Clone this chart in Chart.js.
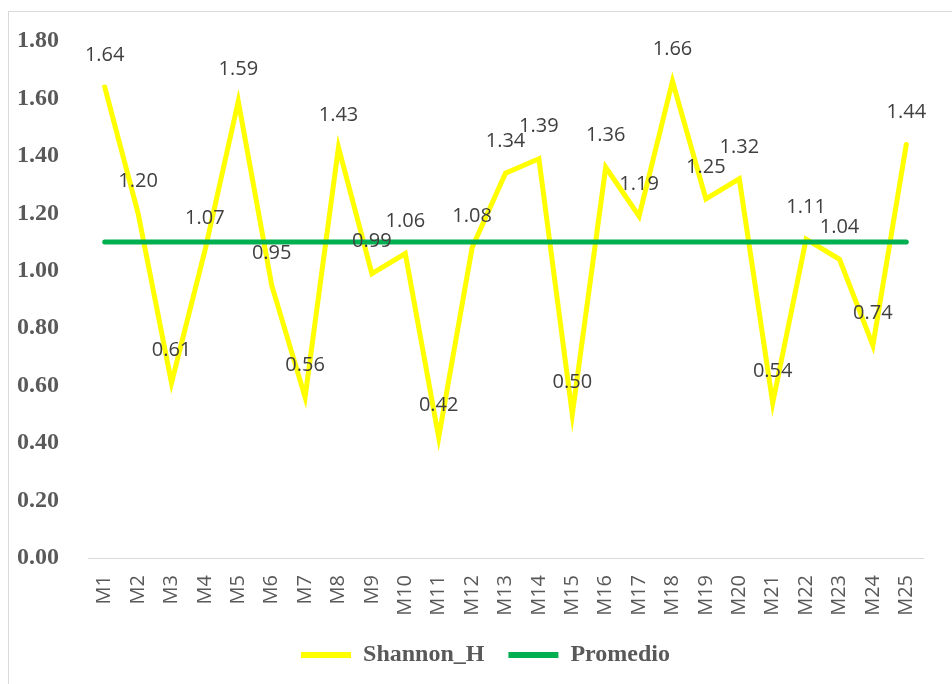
<!DOCTYPE html>
<html>
<head>
<meta charset="utf-8">
<script src="https://cdn.jsdelivr.net/npm/chart.js@4.4.1/dist/chart.umd.min.js"></script>
<style>
  html, body { margin: 0; padding: 0; background: #fff; overflow: hidden; }
  #frame { position: absolute; left: 8px; top: 11px; width: 953px; height: 690px; border: 1px solid #d9d9d9; }
</style>
</head>
<body>
<div id="frame"><canvas id="chart"></canvas></div>
<script>
// data
const samples = ['M1','M2','M3','M4','M5','M6','M7','M8','M9','M10','M11','M12','M13',
                 'M14','M15','M16','M17','M18','M19','M20','M21','M22','M23','M24','M25'];
const shannonH = [1.64, 1.20, 0.61, 1.07, 1.59, 0.95, 0.56, 1.43, 0.99, 1.06, 0.42, 1.08, 1.34,
                  1.39, 0.50, 1.36, 1.19, 1.66, 1.25, 1.32, 0.54, 1.11, 1.04, 0.74, 1.44];
const promedio = [1.10, 1.10, 1.10, 1.10, 1.10, 1.10, 1.10, 1.10, 1.10, 1.10, 1.10, 1.10, 1.10,
                  1.10, 1.10, 1.10, 1.10, 1.10, 1.10, 1.10, 1.10, 1.10, 1.10, 1.10, 1.10];
const yTicks = [0, 0.2, 0.4, 0.6, 0.8, 1.0, 1.2, 1.4, 1.6, 1.8];

const axisGray = '#595959';

// value labels above each Shannon_H point
const pointLabels = {
    id: 'pointLabels',
    afterDatasetsDraw(chart) {
        const ctx = chart.ctx;
        const meta = chart.getDatasetMeta(0);
        ctx.save();
        ctx.font = '20px "Open Sans"';
        ctx.fillStyle = '#404040';
        ctx.textAlign = 'center';
        ctx.textBaseline = 'middle';
        meta.data.forEach((pt, i) => {
            ctx.fillText(shannonH[i].toFixed(2), pt.x, pt.y - 32);
        });
        ctx.restore();
    }
};

new Chart(document.getElementById('chart'), {
    type: 'line',
    data: {
        labels: samples,
        datasets: [
            {
                label: 'Shannon_H',
                data: shannonH,
                borderColor: '#FFFF00',
                backgroundColor: '#FFFF00',
                borderWidth: 5,
                pointRadius: 0,
                tension: 0,
                borderCapStyle: 'round',
                borderJoinStyle: 'miter',
                order: 1
            },
            {
                label: 'Promedio',
                data: promedio,
                borderColor: '#00B050',
                backgroundColor: '#00B050',
                borderWidth: 5,
                pointRadius: 0,
                borderCapStyle: 'round',
                order: 0
            }
        ]
    },
    options: {
        responsive: true,
        maintainAspectRatio: false,
        animation: false,
        layout: { padding: { top: 29, right: 0, bottom: 25, left: 0 } },
        plugins: {
            tooltip: { enabled: false },
            legend: {
                position: 'bottom',
                labels: {
                    boxWidth: 50,
                    boxHeight: 6,
                    padding: 24,
                    color: axisGray,
                    font: { family: '"Liberation Serif"', size: 24, weight: 'bold' },
                    generateLabels(chart) {
                        return chart.data.datasets.map((ds, i) => ({
                            text: ds.label,
                            fillStyle: ds.borderColor,
                            strokeStyle: ds.borderColor,
                            lineWidth: 0,
                            fontColor: axisGray,
                            datasetIndex: i
                        }));
                    }
                }
            }
        },
        scales: {
            x: {
                offset: true,
                grid: { drawOnChartArea: false, drawTicks: false },
                border: { display: true, color: '#d9d9d9', width: 1 },
                ticks: {
                    minRotation: 90,
                    maxRotation: 90,
                    padding: 17,
                    color: axisGray,
                    font: { family: '"Open Sans"', size: 20 }
                },
                afterFit(scale) { scale.height = 61; }
            },
            y: {
                min: 0,
                max: 1.8,
                afterBuildTicks(scale) { scale.ticks = yTicks.map(v => ({ value: v })); },
                grid: { display: false },
                border: { display: false },
                ticks: {
                    padding: 21,
                    color: axisGray,
                    font: { family: '"Liberation Serif"', size: 24, weight: 'bold' },
                    callback: v => v.toFixed(2)
                },
                afterFit(scale) {
                    scale.width = 79;
                    scale.paddingTop = 0;
                    scale.paddingBottom = 0;
                }
            },
            // empty right-hand axis, only keeps the plot clear of the right edge
            yRight: {
                position: 'right',
                grid: { display: false },
                border: { display: false },
                ticks: { display: false },
                afterFit(scale) {
                    scale.width = 39;
                    scale.paddingTop = 0;
                    scale.paddingBottom = 0;
                }
            }
        }
    },
    plugins: [pointLabels]
});
</script>
</body>
</html>
